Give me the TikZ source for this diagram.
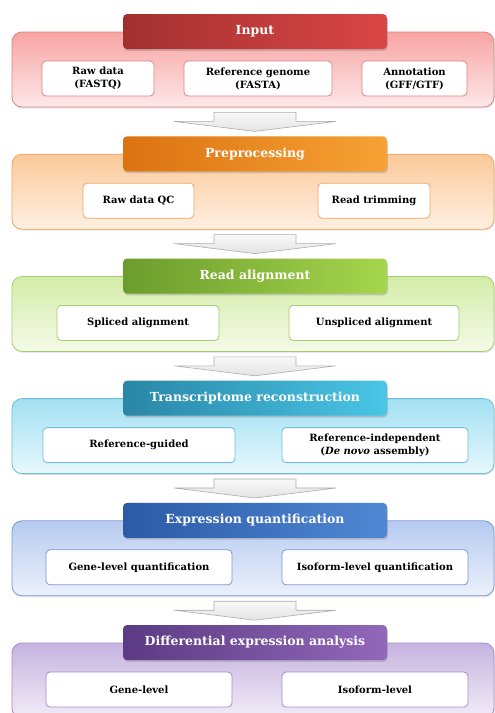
\documentclass[tikz,border=0pt]{standalone}
\usepackage{fontspec}
\setmainfont{DejaVu Serif}
\usetikzlibrary{shadows,
                calc,
                positioning}

% stage colours: Hl/Hr header, Pt/Pb panel, Bd borders
\definecolor{inpHl}{HTML}{A33030}\definecolor{inpHr}{HTML}{DA4646}
\definecolor{inpPt}{HTML}{F8A4A4}\definecolor{inpPb}{HTML}{FDE8E8}
\definecolor{inpBd}{HTML}{D98585}
\definecolor{preHl}{HTML}{DC7212}\definecolor{preHr}{HTML}{F6A234}
\definecolor{prePt}{HTML}{FBC99A}\definecolor{prePb}{HTML}{FEF0E2}
\definecolor{preBd}{HTML}{F2A462}
\definecolor{aliHl}{HTML}{6C9C2C}\definecolor{aliHr}{HTML}{A6D64C}
\definecolor{aliPt}{HTML}{D3ECA8}\definecolor{aliPb}{HTML}{F5FAE8}
\definecolor{aliBd}{HTML}{A6CE6E}
\definecolor{traHl}{HTML}{2986A6}\definecolor{traHr}{HTML}{4AC6E6}
\definecolor{traPt}{HTML}{A2E0F2}\definecolor{traPb}{HTML}{E8F8FD}
\definecolor{traBd}{HTML}{6EBED8}
\definecolor{quaHl}{HTML}{2B5AA6}\definecolor{quaHr}{HTML}{5088D4}
\definecolor{quaPt}{HTML}{B6CAF0}\definecolor{quaPb}{HTML}{ECF1FB}
\definecolor{quaBd}{HTML}{7898D6}
\definecolor{difHl}{HTML}{5B3B83}\definecolor{difHr}{HTML}{9268BA}
\definecolor{difPt}{HTML}{C6B4E0}\definecolor{difPb}{HTML}{F1ECF7}
\definecolor{difBd}{HTML}{A68ACA}

\tikzset{panel/.style=
   {rectangle,
    rounded corners=10pt,
    draw=#1Bd,
    line width=0.8pt,
    top color=#1Pt,
    bottom color=#1Pb,
    minimum width=482pt,
    minimum height=75pt,
    drop shadow={opacity=0.2, shadow xshift=0.8pt, shadow yshift=-1.5pt}}}
\tikzset{header/.style=
   {rectangle,
    rounded corners=4pt,
    left color=#1Hl,
    right color=#1Hr,
    text=white,
    minimum width=264pt,
    minimum height=35pt,
    font=\bfseries\fontsize{12.5}{15}\selectfont,
    drop shadow={opacity=0.35, shadow xshift=0.8pt, shadow yshift=-1.8pt}}}
\tikzset{item/.style=
   {rectangle,
    draw=#1Bd,
    line width=0.8pt,
    fill=white,
    rounded corners=4pt,
    align=center,
    minimum height=35pt,
    inner sep=2pt,
    font=\bfseries\fontsize{10}{13}\selectfont}}
\tikzset{bigarrow/.style = {draw=gray!65, line width=0.6pt,
    top color=gray!5, bottom color=gray!22}}

\newcommand{\blockarrow}[1]{%
  \draw[bigarrow] ($(#1.south)+(-39,5)$) -- ++(82,0) -- ++(0,9) -- ++(40,0)
    -- ++(-81,10) -- ++(-81,-10) -- ++(40,0) -- cycle;}

\begin{document}
\begin{tikzpicture}[x=1pt, y=-1pt]

    \useasboundingbox (0,0) rectangle (495,713);

    % Panels
    \node [panel=inp] (input) at (253,69.5) {};
    \node [panel=pre] (prep)  at (253,191.7) {};
    \node [panel=ali] (align) at (253,313.9) {};
    \node [panel=tra] (trans) at (253,436.1) {};
    \node [panel=qua] (quant) at (253,558.3) {};
    \node [panel=dif] (diffx) at (253,680.5) {};

    % Headers
    \node [header=inp] (inputHd) at ([xshift=2pt]input.north) {Input};
    \node [header=pre] (prepHd)  at ([xshift=2pt]prep.north)  {Preprocessing};
    \node [header=ali] (alignHd) at ([xshift=2pt]align.north) {Read alignment};
    \node [header=tra] (transHd) at ([xshift=2pt]trans.north) {Transcriptome reconstruction};
    \node [header=qua] (quantHd) at ([xshift=2pt]quant.north) {Expression quantification};
    \node [header=dif] (diffxHd) at ([xshift=2pt]diffx.north) {Differential expression analysis};

    % Items
    \node [item=inp, minimum width=112pt] (rawdata)  at (98,78.5)  {Raw data\\(FASTQ)};
    \node [item=inp, minimum width=148pt] (refgen)   at (258,78.5) {Reference genome\\(FASTA)};
    \node [item=inp, minimum width=105pt] (annot)    at (414.5,78.5) {Annotation\\(GFF/GTF)};

    \node [item=pre, minimum width=111pt] (rawqc)    at (138.5,200.7) {Raw data QC};
    \node [item=pre, minimum width=112pt] (trimming) at (374,200.7) {Read trimming};

    \node [item=ali, minimum width=162pt] (spliced)   at (138,322.9) {Spliced alignment};
    \node [item=ali, minimum width=170pt] (unspliced) at (374,322.9) {Unspliced alignment};

    \node [item=tra, minimum width=192pt] (refguided) at (139,445.1) {Reference-guided};
    \node [item=tra, minimum width=186pt] (refindep)  at (375,445.1)
        {Reference-independent\\(\textit{De novo} assembly)};

    \node [item=qua, minimum width=186pt] (genequant) at (139,567.3) {Gene-level quantification};
    \node [item=qua, minimum width=186pt] (isoquant)  at (375,567.3) {Isoform-level quantification};

    \node [item=dif, minimum width=186pt] (genede) at (139,689.5) {Gene-level};
    \node [item=dif, minimum width=186pt] (isode)  at (375,689.5) {Isoform-level};

    % Block arrows
    \foreach \s in {input,prep,align,trans,quant}
        \blockarrow{\s};

\end{tikzpicture}
\end{document}
